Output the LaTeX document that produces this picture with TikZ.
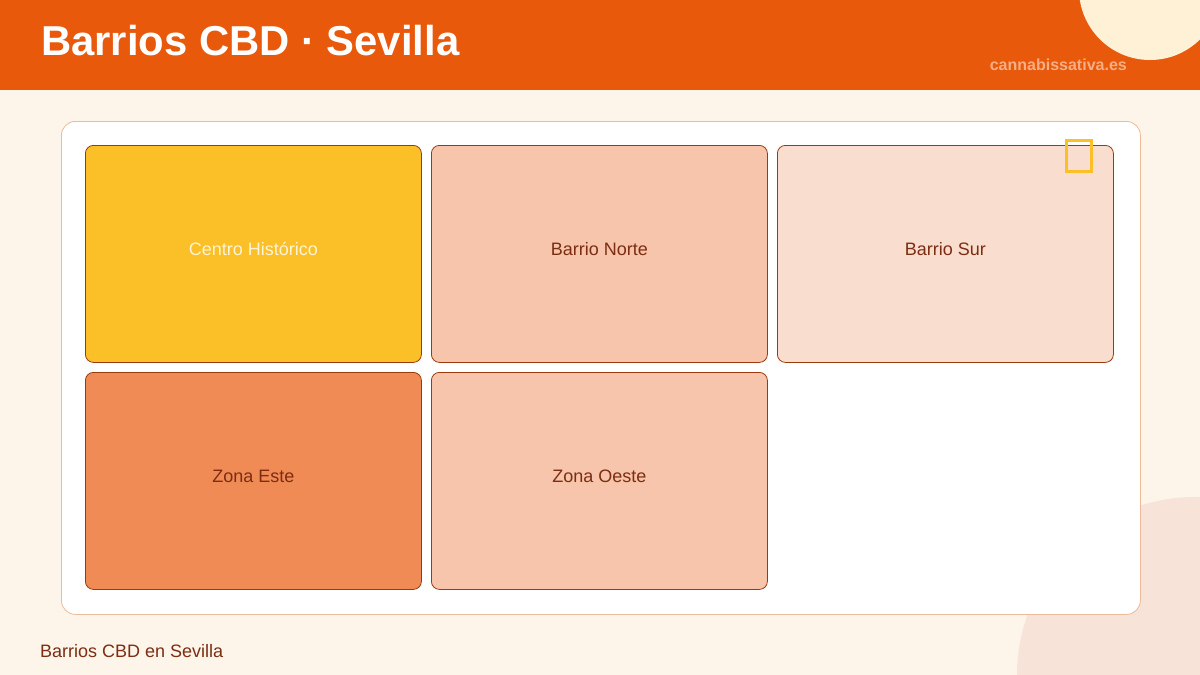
\documentclass[tikz,border=0pt]{standalone}
\usepackage{fontspec}
\setmainfont{Liberation Sans}
\definecolor{bgcream}{HTML}{FDF5EA}
\definecolor{headorange}{HTML}{E9590C}
\definecolor{circcream}{HTML}{FFF1D5}
\definecolor{circpink}{HTML}{F8E3D8}
\definecolor{cardborder}{HTML}{EBBB9C}
\definecolor{tileborder}{HTML}{9A3A0E}
\definecolor{textbrown}{HTML}{7C2D12}
\definecolor{tyellow}{HTML}{FBC027}
\definecolor{tpeach}{HTML}{F6C5AB}
\definecolor{tlight}{HTML}{F9DECF}
\definecolor{torange}{HTML}{F08B55}
\definecolor{urlcol}{HTML}{F7AE85}
\definecolor{labcream}{HTML}{FFF3D6}
\tikzset{
  tile/.style={draw=tileborder, line width=0.8pt, rounded corners=8pt, anchor=north west,
    minimum width=336pt, minimum height=217pt, inner sep=0pt},
  tilelabel/.style={inner sep=0pt, font=\fontsize{18}{22}\selectfont, text=textbrown},
}
\begin{document}
\begin{tikzpicture}[x=1pt,y=-1pt]
\useasboundingbox (0,0) rectangle (1200,675);
\fill[bgcream] (0,0) rectangle (1200,675);
% bottom-right circle
\begin{scope}
\clip (0,90) rectangle (1200,675);
\fill[circpink] (1195,675) circle (178);
\end{scope}
% header
\fill[headorange] (0,0) rectangle (1200,90);
\begin{scope}
\clip (0,0) rectangle (1200,90);
\fill[circcream] (1150,-11) circle (71);
\end{scope}
\node[anchor=base west, inner sep=0pt, text=white, font=\fontsize{41.8}{48}\selectfont\bfseries] (title) at (41,55) {Barrios CBD · Sevilla};
\node[anchor=base east, inner sep=0pt, text=urlcol, font=\fontsize{16}{19}\selectfont\bfseries] (url) at (1127,70) {cannabissativa.es};
% card
\node[draw=cardborder, fill=white, line width=0.8pt, rounded corners=14pt, anchor=north west,
  minimum width=1079pt, minimum height=493pt, inner sep=0pt] (card) at (61,121) {};
% tiles
\node[tile, fill=tyellow] (t1) at (85,145) {};
\node[tile, fill=tpeach] (t2) at (431,145) {};
\node[tile, fill=tlight] (t3) at (777,145) {};
\node[tile, fill=torange] (t4) at (85,372) {};
\node[tile, fill=tpeach] (t5) at (431,372) {};
\node[tilelabel, text=labcream] (l1) at ([yshift=5pt]t1.center) {Centro Histórico};
\node[tilelabel] (l2) at ([yshift=5pt]t2.center) {Barrio Norte};
\node[tilelabel] (l3) at ([yshift=5pt]t3.center) {Barrio Sur};
\node[tilelabel] (l4) at ([yshift=5pt]t4.center) {Zona Este};
\node[tilelabel] (l5) at ([yshift=5pt]t5.center) {Zona Oeste};
% small yellow marker
\node[draw=tyellow, line width=3pt, anchor=north west, minimum width=25pt, minimum height=31pt, inner sep=0pt] (mark1) at (1064.5,138.5) {};
% footer
\node[anchor=base west, inner sep=0pt, text=textbrown, font=\fontsize{18}{22}\selectfont] (foot) at (40,657) {Barrios CBD en Sevilla};
\end{tikzpicture}
\end{document}
